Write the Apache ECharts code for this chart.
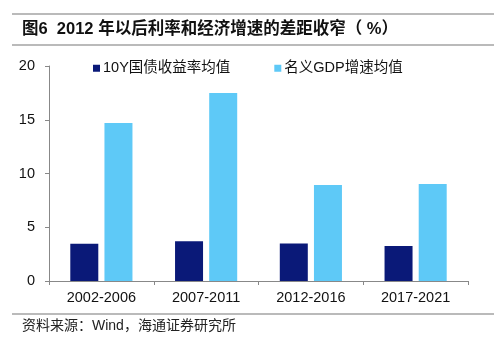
<!DOCTYPE html>
<html>
<head>
<meta charset="utf-8">
<script src="https://cdn.jsdelivr.net/npm/echarts@6/dist/echarts.min.js"></script>
<style>html,body{margin:0;padding:0;background:#fff;}#c{width:500px;height:356px;}</style>
</head>
<body>
<div id="c"></div>
<script>
var categories = ['2002-2006', '2007-2011', '2012-2016', '2017-2021'];
var bondYield = [3.47, 3.69, 3.5, 3.26];
var gdpGrowth = [14.7, 17.5, 8.93, 9.03];
var seriesNames = ['10Y国债收益率均值', '名义GDP增速均值'];
var yTicks = [0, 5, 10, 15, 20];

var font = '"Liberation Sans", Arial, "Noto Sans CJK SC", sans-serif';
var chart = echarts.init(document.getElementById('c'), null, {renderer: 'canvas'});
chart.setOption({
  animation: false,
  backgroundColor: '#fff',
  grid: {left: 49, right: 32, top: 66, bottom: 75},
  legend: {
    top: 56, left: 88, itemWidth: 7, itemHeight: 7, itemGap: 44, icon: 'rect',
    textStyle: {fontSize: 14.5, color: '#111', fontFamily: font, padding: [0, 0, 0, -2]},
    data: seriesNames
  },
  xAxis: {
    type: 'category', data: categories,
    axisLine: {lineStyle: {color: '#888', width: 1}},
    axisTick: {show: true, length: 4, lineStyle: {color: '#888'}},
    axisLabel: {fontSize: 14.5, color: '#111', fontFamily: font, margin: 10}
  },
  yAxis: {
    type: 'value', min: yTicks[0], max: yTicks[yTicks.length - 1], interval: 5,
    axisLine: {show: true, lineStyle: {color: '#888', width: 1}},
    axisTick: {show: true, length: 4, lineStyle: {color: '#888'}},
    splitLine: {show: false},
    axisLabel: {fontSize: 14.5, color: '#111', fontFamily: font, margin: 14}
  },
  series: [
    {name: seriesNames[0], type: 'bar', data: bondYield, barWidth: 28, barGap: '22%',
     itemStyle: {color: '#0a1978'}},
    {name: seriesNames[1], type: 'bar', data: gdpGrowth, barWidth: 28,
     itemStyle: {color: '#5ec9f7'}}
  ],
  graphic: [
    {type: 'line', shape: {x1: 12, y1: 14, x2: 494, y2: 14}, style: {stroke: '#777', lineWidth: 1.2}},
    {type: 'text', left: 22, top: 21, style: {text: '图6  2012 年以后利率和经济增速的差距收窄（ %）', fontSize: 16.5, fontWeight: 'bold', fill: '#111', fontFamily: font}},
    {type: 'line', shape: {x1: 12, y1: 45, x2: 494, y2: 45}, style: {stroke: '#777', lineWidth: 1.2}},
    {type: 'line', shape: {x1: 12, y1: 314, x2: 494, y2: 314}, style: {stroke: '#777', lineWidth: 1.2}},
    {type: 'text', left: 22, top: 319, style: {text: '资料来源：Wind，海通证券研究所', fontSize: 14, fill: '#222', fontFamily: font}}
  ]
});
</script>
</body>
</html>
